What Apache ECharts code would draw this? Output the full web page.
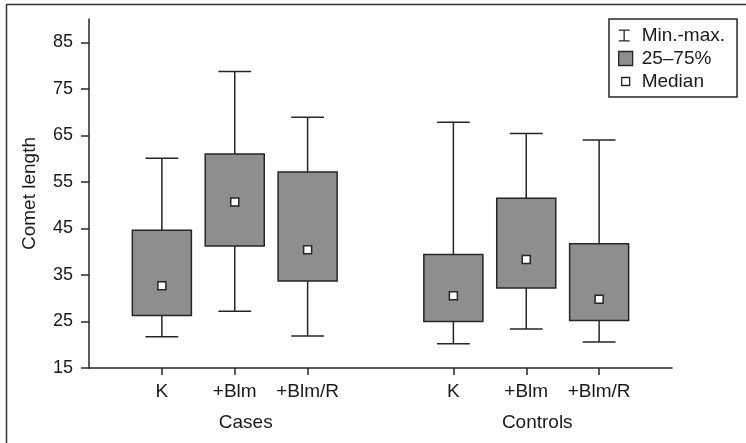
<!DOCTYPE html>
<html>
<head>
<meta charset="utf-8">
<script src="https://cdn.jsdelivr.net/npm/echarts@6/dist/echarts.min.js"></script>
<style>
html,body{margin:0;padding:0;background:#fff;}
#chart{width:746px;height:443px;}
</style>
</head>
<body>
<div id="chart"></div>
<script>
// ---- data ----
var groups = ['Cases', 'Controls'];
var categories = ['K', '+Blm', '+Blm/R'];
var minVals    = [21.7, 27.2, 21.9, 20.2, 23.4, 20.6];
var q1Vals     = [26.3, 41.2, 33.7, 25.0, 32.2, 25.2];
var medianVals = [32.7, 50.7, 40.4, 30.5, 38.3, 29.8];
var q3Vals     = [44.6, 61.0, 57.1, 39.4, 51.5, 41.7];
var maxVals    = [60.1, 78.7, 68.9, 67.8, 65.4, 64.0];
var yTicks = [15, 25, 35, 45, 55, 65, 75, 85];
var seriesNames = ['Min.-max.', '25\u201375%', 'Median'];

// slot positions on the x value axis: group g, category c -> g*4 + c + 1
var slotPos = [], slotLabel = {}, groupPos = [], groupLabel = {};
groups.forEach(function (g, gi) {
  categories.forEach(function (c, ci) {
    var p = gi * 4 + ci + 1;
    slotPos.push(p);
    slotLabel[p] = c;
  });
  var gp = gi * 4 + 2;
  groupPos.push(gp);
  groupLabel[gp] = g;
});

var rows = slotPos.map(function (p, i) {
  return [p, minVals[i], q1Vals[i], medianVals[i], q3Vals[i], maxVals[i]];
});

var LINE = '#262626';
var TEXT = '#1a1a1a';
var FILL = '#8e8e8e';
var FONT = 'Liberation Sans';
var FS_TICK = 18;
var FS = 19;

var chart = echarts.init(document.getElementById('chart'), null, {renderer: 'canvas'});

var option = {
  animation: false,
  backgroundColor: '#fff',
  textStyle: {fontFamily: FONT},
  grid: {left: 89, right: 74, top: 19, bottom: 75, containLabel: false},
  xAxis: [{
    type: 'value', position: 'bottom', min: 0, max: 8, interval: 1,
    splitLine: {show: false},
    axisLine: {show: true, onZero: false, lineStyle: {color: LINE, width: 1.5}},
    axisTick: {show: true, length: 7, customValues: slotPos, lineStyle: {color: LINE, width: 1.5}},
    axisLabel: {customValues: slotPos, margin: 14, color: TEXT, fontSize: FS, fontFamily: FONT,
      formatter: function (v) { return slotLabel[v] || ''; }}
  }, {
    type: 'value', position: 'bottom', min: 0, max: 8, interval: 1,
    splitLine: {show: false}, axisLine: {show: false}, axisTick: {show: false},
    axisLabel: {customValues: groupPos, margin: 45, color: TEXT, fontSize: FS, fontFamily: FONT,
      padding: [0, 0, 0, 22],
      formatter: function (v) { return groupLabel[v] || ''; }}
  }],
  yAxis: {
    type: 'value', min: 15, max: 90, interval: 5,
    name: 'Comet length', nameLocation: 'middle', nameGap: 50, nameRotate: 90,
    nameTextStyle: {color: TEXT, fontSize: FS, fontFamily: FONT},
    splitLine: {show: false},
    axisLine: {show: true, onZero: false, lineStyle: {color: LINE, width: 1.5}},
    axisTick: {show: true, length: 8, customValues: yTicks, lineStyle: {color: LINE, width: 1.5}},
    axisLabel: {customValues: yTicks, margin: 16, color: TEXT, fontSize: FS_TICK, fontFamily: FONT}
  },
  legend: {
    orient: 'vertical', left: 609, top: 19,
    padding: [7, 12, 6, 9], itemGap: 4, itemWidth: 14, itemHeight: 14,
    borderColor: LINE, borderWidth: 1.5, backgroundColor: '#fff',
    selectedMode: false,
    textStyle: {color: TEXT, fontSize: FS, fontFamily: FONT, padding: [0, 0, 0, 4], lineHeight: 19},
    data: [
      {name: seriesNames[0], icon: 'path://M0,0 M14,14 M0,1h11v1.3h-11z M4.85,1h1.3v12h-1.3z M0,11.7h11v1.3h-11z',
        itemStyle: {color: LINE, borderWidth: 0}},
      {name: seriesNames[1], icon: 'rect', itemStyle: {color: FILL, borderColor: LINE, borderWidth: 1.3}},
      {name: seriesNames[2], icon: 'path://M0,0 M14,14 M3,3h8v8h-8z',
        itemStyle: {color: '#fff', borderColor: LINE, borderWidth: 1.3}}
    ]
  },
  graphic: [{
    type: 'rect', left: 4, top: 2, silent: true, z: -10,
    shape: {x: 0, y: 0, width: 760, height: 460},
    style: {fill: 'none', stroke: '#333', lineWidth: 1.5}
  }],
  series: [{
    name: seriesNames[0], type: 'custom', xAxisIndex: 0,
    encode: {x: 0, y: [1, 5]},
    data: rows,
    itemStyle: {color: LINE},
    renderItem: function (params, api) {
      var x = api.value(0);
      var pMin = api.coord([x, api.value(1)]);
      var pMax = api.coord([x, api.value(5)]);
      var half = api.size([1, 0])[0] * 0.225;
      var st = {stroke: LINE, lineWidth: 1.5, fill: 'none'};
      return {type: 'group', children: [
        {type: 'line', shape: {x1: pMin[0], y1: pMin[1], x2: pMax[0], y2: pMax[1]}, style: st},
        {type: 'line', shape: {x1: pMin[0] - half, y1: pMin[1], x2: pMin[0] + half, y2: pMin[1]}, style: st},
        {type: 'line', shape: {x1: pMax[0] - half, y1: pMax[1], x2: pMax[0] + half, y2: pMax[1]}, style: st}
      ]};
    }
  }, {
    name: seriesNames[1], type: 'custom', xAxisIndex: 0,
    encode: {x: 0, y: [2, 4]},
    data: rows,
    itemStyle: {color: FILL},
    z: 3,
    renderItem: function (params, api) {
      var x = api.value(0);
      var pQ1 = api.coord([x, api.value(2)]);
      var pQ3 = api.coord([x, api.value(4)]);
      var half = api.size([1, 0])[0] * 0.405;
      return {type: 'rect',
        shape: {x: pQ3[0] - half, y: pQ3[1], width: half * 2, height: pQ1[1] - pQ3[1]},
        style: {fill: FILL, stroke: LINE, lineWidth: 1.5}};
    }
  }, {
    name: seriesNames[2], type: 'scatter', xAxisIndex: 0, z: 5,
    symbol: 'rect', symbolSize: 8,
    itemStyle: {color: '#fff', borderColor: LINE, borderWidth: 1.5, opacity: 1},
    data: slotPos.map(function (p, i) { return [p, medianVals[i]]; })
  }]
};
chart.setOption(option);
</script>
</body>
</html>
